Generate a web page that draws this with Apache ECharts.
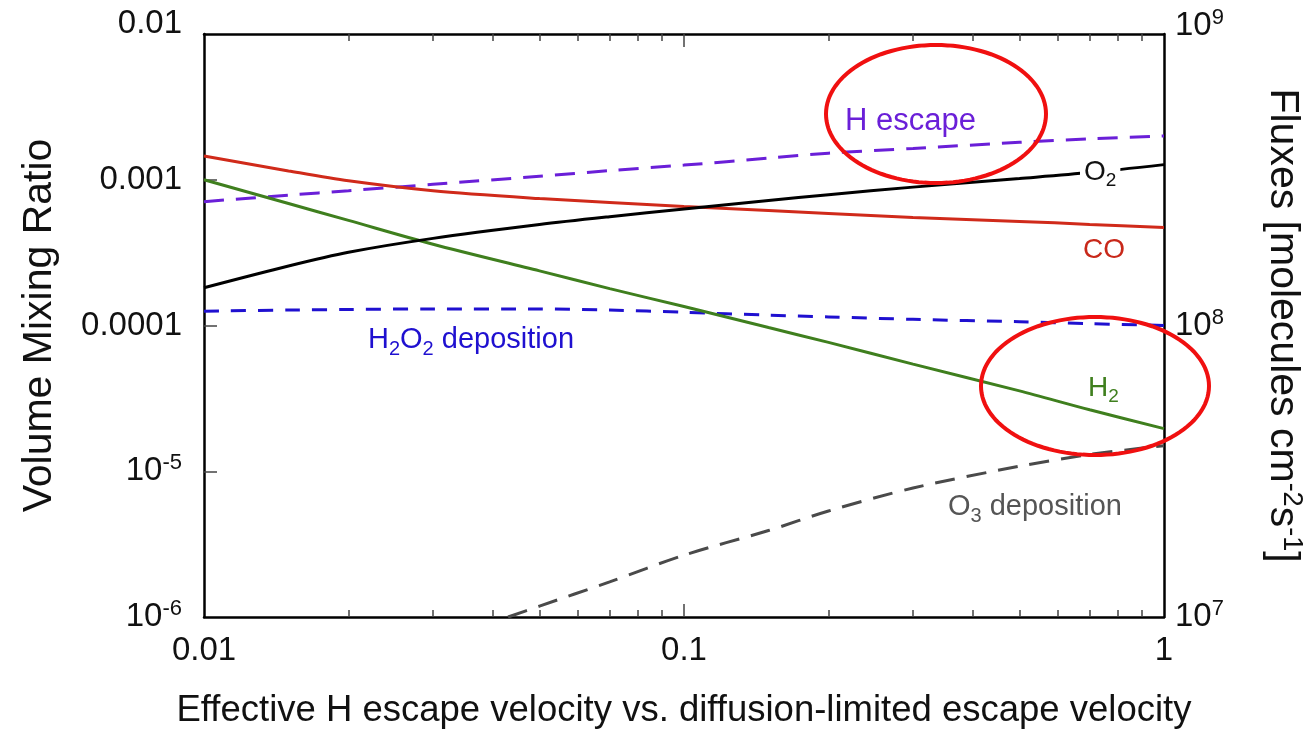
<!DOCTYPE html>
<html><head><meta charset="utf-8">
<script src="https://cdn.jsdelivr.net/npm/echarts@6/dist/echarts.min.js"></script>
<style>html,body{margin:0;padding:0;background:#fff;overflow:hidden}#c{width:1313px;height:734px}</style>
</head><body><div id="c"></div>
<script>
// ---- data ----
const xVals = [0.01, 0.015, 0.02, 0.03, 0.05, 0.07, 0.1, 0.15, 0.2, 0.3, 0.5, 0.7, 1.0];
const o2 = [1.815e-4, 2.56e-4, 3.18e-4, 3.96e-4, 4.93e-4, 5.58e-4, 6.3e-4, 7.2e-4, 7.9e-4, 8.9e-4, 1.02e-3, 1.12e-3, 1.27e-3];
const co = [1.455e-3, 1.15e-3, 9.84e-4, 8.41e-4, 7.43e-4, 6.98e-4, 6.55e-4, 6.15e-4, 5.87e-4, 5.51e-4, 5.18e-4, 4.94e-4, 4.71e-4];
const h2 = [1.0e-3, 6.87e-4, 5.26e-4, 3.61e-4, 2.37e-4, 1.79e-4, 1.35e-4, 9.68e-5, 7.66e-5, 5.43e-5, 3.56e-5, 2.64e-5, 1.96e-5];
const hEscape = [2.66e8, 2.8e8, 2.9e8, 3.05e8, 3.25e8, 3.4e8, 3.55e8, 3.75e8, 3.9e8, 4.05e8, 4.25e8, 4.37e8, 4.47e8];
const h2o2Dep = [1.12e8, 1.13e8, 1.135e8, 1.14e8, 1.14e8, 1.13e8, 1.11e8, 1.085e8, 1.07e8, 1.05e8, 1.03e8, 1.015e8, 1.0e8];
const o3X = [0.043, 0.05, 0.07, 0.1, 0.15, 0.2, 0.3, 0.5, 0.7, 1.0];
const o3Dep = [1.0e7, 1.09e7, 1.32e7, 1.63e7, 1.98e7, 2.31e7, 2.77e7, 3.29e7, 3.61e7, 3.87e7];
const xLabelTicks = [0.01, 0.1, 1];
const xMajorTicks = [0.1];
const xMinorTicks = [0.02,0.03,0.04,0.05,0.06,0.07,0.08,0.09,0.2,0.3,0.4,0.5,0.6,0.7,0.8,0.9];
const yLeftTicks = [1e-6, 1e-5, 1e-4, 1e-3, 1e-2];
const yLeftInnerTicks = [1e-5, 1e-4, 1e-3];
const yRightTicks = [1e7, 1e8, 1e9];
const yRightInnerTicks = [1e8];

const FONT = '"Liberation Sans", Arial, Helvetica, sans-serif';
const chart = echarts.init(document.getElementById('c'));
const zip = (xs, arr) => xs.map((x, i) => [x, arr[i]]);

function leftLabel(v) {
  const e = Math.round(Math.log10(v));
  if (e === -2) return '{top|0.01}';
  if (e >= -4) return '{n|' + v.toFixed(-e) + '}';
  return '{n|10}{s|' + e + '}';
}
function rightLabel(v) {
  const e = Math.round(Math.log10(v));
  if (e === 9) return '{ntop|10}{stop|' + e + '}';
  return '{n|10}{s|' + e + '}';
}
const richTick = {
  n: {fontSize: 33, fontFamily: FONT, color: '#111'},
  top: {fontSize: 33, fontFamily: FONT, color: '#111', padding: [0,0,20,0]},
  s: {fontSize: 22, fontFamily: FONT, color: '#111', verticalAlign: 'top', padding: [0,0,16,0]},
  ntop: {fontSize: 33, fontFamily: FONT, color: '#111', padding: [0,0,16,0]},
  stop: {fontSize: 22, fontFamily: FONT, color: '#111', verticalAlign: 'top', padding: [0,0,32,0]}
};

function ellipsePts(cx, cy, rx, ry) {
  const p = [];
  for (let i = 0; i < 120; i++) {
    const t = i / 120 * Math.PI * 2;
    p.push([cx + rx * Math.cos(t), cy + ry * Math.sin(t)]);
  }
  return p;
}
function subLabel(parts, color, size, bg) {
  const text = parts.map(p => (p[1] ? '{b|' : '{n|') + p[0] + '}').join('');
  return {
    text: text,
    backgroundColor: bg || 'transparent',
    rich: {
      n: {fontSize: size, fontFamily: FONT, fill: color},
      b: {fontSize: Math.round(size * 0.68), fontFamily: FONT, fill: color, verticalAlign: 'bottom', padding: [Math.round(size*0.62),0,0,0]}
    }
  };
}

const frameLine = {show: true, lineStyle: {color: '#000', width: 2.5}};
const tickStyle = {color: '#444', width: 1.5};
const baseX = {type: 'log', logBase: 10, min: 0.01, max: 1, splitLine: {show: false}};

const option = {
  animation: false,
  backgroundColor: '#fff',
  grid: {left: 204, top: 34, width: 968, height: 588, containLabel: false},
  xAxis: [
    Object.assign({}, baseX, {
      position: 'bottom', axisLine: frameLine,
      axisTick: {show: true, inside: true, length: 13, lineStyle: tickStyle, customValues: xMajorTicks},
      axisLabel: {show: true, fontSize: 33, fontFamily: FONT, color: '#111', margin: 17, customValues: xLabelTicks,
        formatter: v => String(+v.toPrecision(2))},
      name: 'Effective H escape velocity vs. diffusion-limited escape velocity',
      nameLocation: 'middle', nameGap: 75,
      nameTextStyle: {fontSize: 36.5, fontFamily: FONT, color: '#111'}
    }),
    Object.assign({}, baseX, {
      position: 'bottom', axisLine: {show: false},
      axisTick: {show: true, inside: true, length: 7, lineStyle: tickStyle, customValues: xMinorTicks},
      axisLabel: {show: false}
    }),
    Object.assign({}, baseX, {
      position: 'top', axisLine: frameLine,
      axisTick: {show: true, inside: true, length: 13, lineStyle: tickStyle, customValues: xMajorTicks},
      axisLabel: {show: false}
    }),
    Object.assign({}, baseX, {
      position: 'top', axisLine: {show: false},
      axisTick: {show: true, inside: true, length: 7, lineStyle: tickStyle, customValues: xMinorTicks},
      axisLabel: {show: false}
    })
  ],
  yAxis: [
    {
      type: 'log', logBase: 10, min: 1e-6, max: 1e-2, position: 'left',
      splitLine: {show: false}, axisLine: frameLine,
      axisTick: {show: true, inside: true, length: 13, lineStyle: tickStyle, customValues: yLeftInnerTicks},
      axisLabel: {show: true, margin: 22, customValues: yLeftTicks, formatter: leftLabel, rich: richTick},
      name: 'Volume Mixing Ratio', nameLocation: 'middle', nameGap: 144, nameRotate: 90,
      nameTextStyle: {fontSize: 41, fontFamily: FONT, color: '#111'}
    },
    {
      type: 'log', logBase: 10, min: 1e7, max: 1e9, position: 'right',
      splitLine: {show: false}, axisLine: frameLine,
      axisTick: {show: true, inside: true, length: 13, lineStyle: tickStyle, customValues: yRightInnerTicks},
      axisLabel: {show: true, margin: 11, customValues: yRightTicks, formatter: rightLabel, rich: richTick},
      name: '{t|Fluxes [molecules cm}{s|-2}{t|s}{s|-1}{t|]}', nameLocation: 'middle', nameGap: 96, nameRotate: -90,
      nameTextStyle: {rich: {
        t: {fontSize: 41, fontFamily: FONT, color: '#111'},
        s: {fontSize: 27, fontFamily: FONT, color: '#111', verticalAlign: 'top', padding: [0,0,18,0]}
      }}
    }
  ],
  series: [
    {name: 'H escape', type: 'line', yAxisIndex: 1, data: zip(xVals, hEscape), smooth: 0.3, symbol: 'none',
      lineStyle: {color: '#6a1fd8', width: 3, type: [20, 12]}},
    {name: 'H2O2 deposition', type: 'line', yAxisIndex: 1, data: zip(xVals, h2o2Dep), smooth: 0.3, symbol: 'none',
      lineStyle: {color: '#1f10d0', width: 3, type: [15, 12]}},
    {name: 'O3 deposition', type: 'line', yAxisIndex: 1, data: zip(o3X, o3Dep), smooth: 0.3, symbol: 'none',
      lineStyle: {color: '#4a4a4a', width: 3, type: [20, 12]}},
    {name: 'CO', type: 'line', data: zip(xVals, co), smooth: 0.3, symbol: 'none', lineStyle: {color: '#d02a1a', width: 3}},
    {name: 'H2', type: 'line', data: zip(xVals, h2), smooth: 0.3, symbol: 'none', lineStyle: {color: '#3f7f1e', width: 3}},
    {name: 'O2', type: 'line', data: zip(xVals, o2), smooth: 0.3, symbol: 'none', lineStyle: {color: '#000', width: 3}}
  ],
  graphic: [
    {type: 'text', left: 845, top: 106, z: 50, style: {text: 'H escape', font: '31px ' + FONT, fill: '#6a1fd8'}},
    {type: 'text', left: 1080, top: 154, z: 50, style: Object.assign(subLabel([['O',0],['2',1]], '#111', 28, '#fff'), {padding: [0,4,0,4]})},
    {type: 'text', left: 1083, top: 236, z: 50, style: {text: 'CO', font: '28px ' + FONT, fill: '#c8281a'}},
    {type: 'text', left: 368, top: 321, z: 50, style: subLabel([['H',0],['2',1],['O',0],['2',1],[' deposition',0]], '#1f10d0', 29)},
    {type: 'text', left: 1088, top: 370, z: 50, style: subLabel([['H',0],['2',1]], '#3f7f1e', 28)},
    {type: 'text', left: 948, top: 488, z: 50, style: subLabel([['O',0],['3',1],[' deposition',0]], '#555', 29)},
    {type: 'polygon', shape: {points: ellipsePts(936, 114, 110, 69)}, style: {fill: 'none', stroke: '#f01010', lineWidth: 4}, z: 100},
    {type: 'polygon', shape: {points: ellipsePts(1095, 386, 114, 69)}, style: {fill: 'none', stroke: '#f01010', lineWidth: 4}, z: 100}
  ]
};
chart.setOption(option);
</script></body></html>
